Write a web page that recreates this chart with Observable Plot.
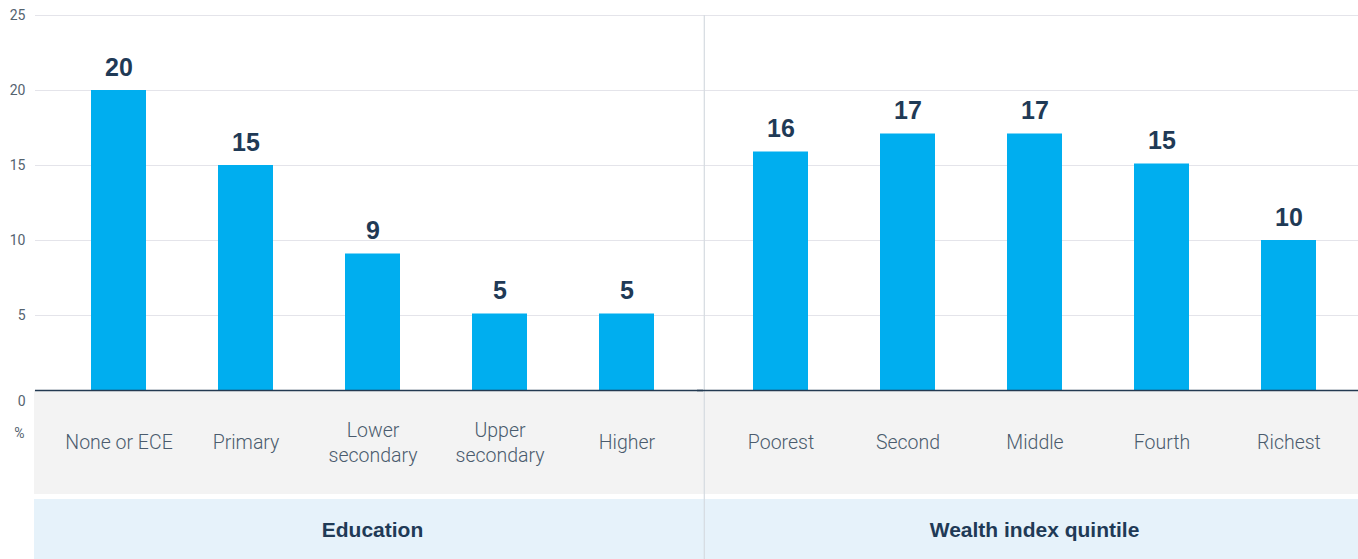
<!DOCTYPE html>
<html><head><meta charset="utf-8">
<script src="https://cdn.jsdelivr.net/npm/d3@7"></script>
<script src="https://cdn.jsdelivr.net/npm/@observablehq/plot@0.6"></script>
<style>html,body{margin:0;padding:0;background:#fff;} svg{display:block}</style>
</head><body><div id="chart"></div>
<script>
const groups = ["Education", "Wealth index quintile"];
const educationCategories = ["None or ECE", "Primary", "Lower\nsecondary", "Upper\nsecondary", "Higher"];
const educationValues = [20, 15, 9.1, 5.1, 5.1];
const wealthCategories = ["Poorest", "Second", "Middle", "Fourth", "Richest"];
const wealthValues = [15.9, 17.1, 17.1, 15.1, 10];
const yTicks = [5, 10, 15, 20, 25];
const yUnit = "%";

const data = [
  ...educationCategories.map((c, i) => ({group: groups[0], slot: i, category: c, value: educationValues[i]})),
  ...wealthCategories.map((c, i) => ({group: groups[1], slot: i, category: c, value: wealthValues[i]}))
];

const navy = "#1f3a56";
const grey = "#4a5b6d";
const axisGrey = "#55636f";

const chart = Plot.plot({
  width: 1358, height: 559,
  marginTop: 15, marginBottom: 169, marginLeft: 53, marginRight: 5,
  fx: {domain: groups, paddingInner: 0.0392, paddingOuter: 0, axis: null, label: null},
  x: {domain: [0, 1, 2, 3, 4], paddingInner: 0.568, paddingOuter: 0.284, axis: null},
  y: {domain: [0, 25]},
  style: {fontFamily: "Roboto", background: "white", overflow: "hidden"},
  marks: [
    Plot.rect({length: 1}, {y1: 0, y2: 0, fill: "#f3f3f3", insetLeft: -20, insetRight: -13, insetTop: 0, insetBottom: -104}),
    Plot.rect({length: 1}, {y1: 0, y2: 0, fill: "#e6f2fa", insetLeft: -20, insetRight: -13, insetTop: 109, insetBottom: -169}),
    Plot.ruleY(yTicks, {stroke: "#e4e4ea", insetLeft: -19, insetRight: -13}),
    Plot.ruleX([{group: groups[1], slot: 0}], {fx: "group", x: "slot", dx: -76.7, stroke: "#d5dbe0", strokeWidth: 1.2, insetBottom: -169}),
    Plot.barY(data, {fx: "group", x: "slot", y: "value", fill: "#00aeef"}),
    Plot.ruleY([0], {stroke: "#233a52", strokeWidth: 1.5, insetLeft: -19, insetRight: -13}),
    Plot.text(data, {fx: "group", x: "slot", y: "value", text: d => d3.format(".0f")(d.value),
      lineAnchor: "bottom", dy: -15, fontSize: 25, fontWeight: "bold", fill: navy, fontFamily: "Liberation Sans"}),
    Plot.text(data, {fx: "group", x: "slot", text: "category", frameAnchor: "bottom", dy: 51,
      lineAnchor: "middle", lineHeight: 1.27, fontSize: 19.5, fontWeight: 300, fill: grey, fontFamily: "Roboto"}),
    Plot.text(groups, {fx: d => d, text: d => d, frameAnchor: "bottom", dy: 146,
      fontSize: 21, fontWeight: "bold", fill: navy, fontFamily: "Liberation Sans"}),
    Plot.axisY(yTicks, {tickSize: 0, tickPadding: 29, fontSize: 14, color: axisGrey, label: null}),
    Plot.text([{group: groups[0], label: "0"}], {fx: "group", y: 0, text: "label", frameAnchor: "left", dx: -29, dy: 11,
      textAnchor: "end", fontSize: 14, fill: axisGrey}),
    Plot.text([{group: groups[0], label: yUnit}], {fx: "group", y: 0, text: "label", frameAnchor: "left", dx: -30, dy: 43,
      textAnchor: "end", fontSize: 14, fill: axisGrey})
  ]
});
document.getElementById("chart").append(chart);
</script>
</body></html>
